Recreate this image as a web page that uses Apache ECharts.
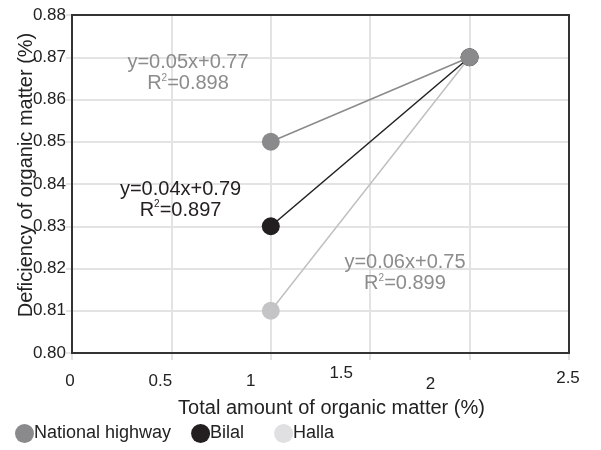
<!DOCTYPE html>
<html><head><meta charset="utf-8">
<script src="https://cdn.jsdelivr.net/npm/echarts@6/dist/echarts.min.js"></script>
<style>html,body{margin:0;padding:0;background:#fff}#c{width:601px;height:450px}</style>
</head><body><div id="c"></div>
<script>
const xTicks = [0, 0.5, 1, 1.5, 2, 2.5];
const yTicks = [0.80, 0.81, 0.82, 0.83, 0.84, 0.85, 0.86, 0.87, 0.88];
const seriesNames = ['National highway', 'Bilal', 'Halla'];
const nationalHighway = [[1, 0.85], [2, 0.87]];
const bilal = [[1, 0.83], [2, 0.87]];
const halla = [[1, 0.81], [2, 0.87]];
const eqNH = ['y=0.05x+0.77', '0.898'];
const eqBilal = ['y=0.04x+0.79', '0.897'];
const eqHalla = ['y=0.06x+0.75', '0.899'];

const font = 'Liberation Sans, Arial, sans-serif';
// per-tick label nudges [padRight, padTop] to mimic the reference's uneven label placement
const xLabelPad = [[4,8],[22,8],[40,8],[58,0],[78,11],[2,5]];
const xRich = {};
xLabelPad.forEach((p, i) => {
  xRich['t' + i] = {fontSize: 17, color: '#222', fontFamily: font, padding: [p[1], p[0], 0, 0]};
});
const legendTrail = ['', '\u00a0\u00a0', ''];

function eqMark(eq, coord, color) {
  return {
    symbol: 'rect', symbolSize: 1, silent: true,
    itemStyle: {color: 'rgba(0,0,0,0)'},
    data: [{
      coord: coord,
      label: {
        show: true, position: 'inside',
        formatter: '{a|' + eq[0] + '}\n{a|R}{s|2}{a|=' + eq[1] + '}',
        rich: {
          a: {fontSize: 20, color: color, fontFamily: font, lineHeight: 21},
          s: {fontSize: 10, color: color, fontFamily: font, verticalAlign: 'top', lineHeight: 12}
        },
        align: 'center'
      }
    }]
  };
}
const chart = echarts.init(document.getElementById('c'));
chart.setOption({
  animation: false,
  textStyle: {fontFamily: font},
  grid: {left: 72, right: 32, top: 15, bottom: 97, show: true, borderColor: '#333', borderWidth: 2, z: 3,
         containLabel: false, outerBoundsMode: 'none'},
  xAxis: {
    type: 'value', min: 0, max: 2.5, interval: 0.5,
    name: 'Total amount of organic matter (%)', nameLocation: 'middle', nameGap: 45, nameMoveOverlap: false,
    nameTextStyle: {fontSize: 20, color: '#222', fontFamily: font, padding: [0, 0, 0, 22]},
    axisLine: {show: false},
    axisTick: {show: true, length: 7, lineStyle: {color: '#e3e3e3', width: 2}},
    axisLabel: {margin: 12, formatter: (v) => '{t' + xTicks.indexOf(v) + '|' + v + '}', rich: xRich},
    splitLine: {show: true, showMinLine: false, showMaxLine: false, lineStyle: {color: '#e3e3e3', width: 2}}
  },
  yAxis: {
    type: 'value', min: 0.80, max: 0.88, interval: 0.01,
    name: 'Deficiency of organic matter (%)', nameLocation: 'middle', nameGap: 36, nameMoveOverlap: false,
    nameTextStyle: {fontSize: 20, color: '#222', fontFamily: font, padding: [0, 0, 0, 18]},
    axisLine: {show: false},
    axisTick: {show: true, length: 6, lineStyle: {color: '#e3e3e3', width: 2}},
    axisLabel: {fontSize: 17, color: '#222', margin: 6, formatter: v => v.toFixed(2)},
    splitLine: {show: true, showMinLine: false, showMaxLine: false, lineStyle: {color: '#e3e3e3', width: 2}}
  },
  legend: {
    left: 10, bottom: 2, itemWidth: 19, itemHeight: 19, itemGap: 20,
    icon: 'circle',
    formatter: (name) => name + legendTrail[seriesNames.indexOf(name)],
    textStyle: {fontSize: 18, color: '#222', fontFamily: font, padding: [0, 0, 0, -5]},
    data: [
      {name: seriesNames[0], itemStyle: {color: '#8a8a8c'}},
      {name: seriesNames[1], itemStyle: {color: '#231f20'}},
      {name: seriesNames[2], itemStyle: {color: '#e0e0e2'}}
    ]
  },
  series: [
    {name: seriesNames[2], type: 'line', data: halla, z: 2, symbol: 'circle', symbolSize: 18,
     itemStyle: {color: '#c4c4c6'}, lineStyle: {color: '#c0c0c0', width: 1.5},
     markPoint: eqMark(eqHalla, [1.675, 0.8189], '#8c8c8c')},
    {name: seriesNames[1], type: 'line', data: bilal, z: 3, symbol: 'circle', symbolSize: 18,
     itemStyle: {color: '#231f20'}, lineStyle: {color: '#231f20', width: 1.5},
     markPoint: eqMark(eqBilal, [0.546, 0.8363], '#231f20')},
    {name: seriesNames[0], type: 'line', data: nationalHighway, z: 4, symbol: 'circle', symbolSize: 18,
     itemStyle: {color: '#8a8a8c'}, lineStyle: {color: '#8a8a8a', width: 1.5},
     markPoint: eqMark(eqNH, [0.5835, 0.8663], '#8c8c8c')}
  ]
});
</script></body></html>
